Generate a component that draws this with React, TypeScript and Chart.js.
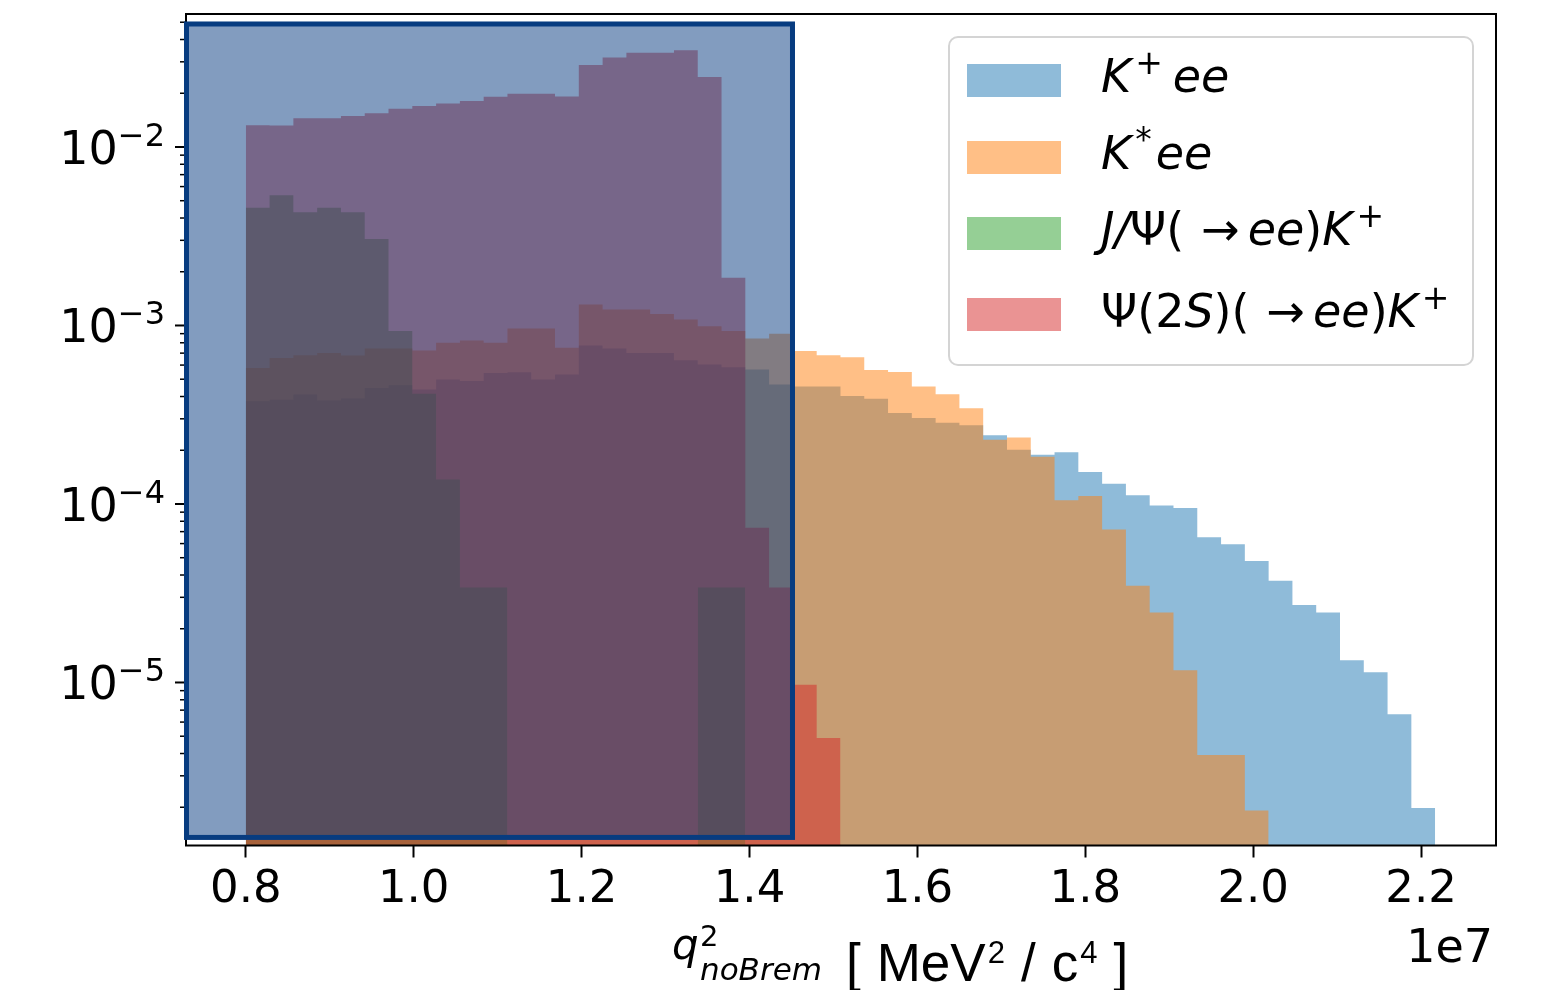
import React, { useEffect, useRef } from 'react';
import { Chart, registerables } from 'chart.js';

Chart.register(...registerables);

// ---------------- data ----------------
const BIN_LOW = 8.0e6;
const BIN_HIGH = 2.2167e7;
const N_BINS = 50;

const K_PLUS_EE = [
  3.76e-4, 3.84e-4, 4.10e-4, 3.80e-4, 3.90e-4, 4.47e-4, 4.62e-4, 4.38e-4, 4.98e-4, 4.88e-4,
  5.42e-4, 5.47e-4, 4.98e-4, 5.31e-4, 7.73e-4, 7.43e-4, 7.02e-4, 7.02e-4, 6.38e-4, 6.04e-4,
  5.83e-4, 5.66e-4, 4.67e-4, 4.55e-4, 4.55e-4, 4.03e-4, 3.88e-4, 3.23e-4, 3.03e-4, 2.85e-4,
  2.76e-4, 2.43e-4, 2.01e-4, 1.89e-4, 1.95e-4, 1.51e-4, 1.30e-4, 1.12e-4, 9.8e-5, 9.5e-5,
  6.51e-5, 5.95e-5, 4.79e-5, 3.71e-5, 2.72e-5, 2.47e-5, 1.33e-5, 1.14e-5, 6.64e-6, 1.98e-6,
];

const K_STAR_EE = [
  5.78e-4, 6.58e-4, 6.81e-4, 7.02e-4, 6.79e-4, 7.43e-4, 7.43e-4, 7.24e-4, 8.00e-4, 8.24e-4,
  8.00e-4, 9.62e-4, 9.62e-4, 7.50e-4, 1.31e-3, 1.23e-3, 1.23e-3, 1.16e-3, 1.08e-3, 9.90e-4,
  9.30e-4, 8.45e-4, 9.00e-4, 7.20e-4, 6.81e-4, 6.63e-4, 5.63e-4, 5.48e-4, 4.55e-4, 4.12e-4,
  3.44e-4, 2.29e-4, 2.36e-4, 1.84e-4, 1.05e-4, 1.11e-4, 7.2e-5, 3.48e-5, 2.47e-5, 1.17e-5,
  3.93e-6, 3.93e-6, 1.92e-6,
];

const JPSI_EE_K = [
  4.57e-3, 5.36e-3, 4.31e-3, 4.57e-3, 4.31e-3, 3.05e-3, 9.3e-4, 4.14e-4, 1.37e-4, 3.4e-5,
  3.4e-5, null, null, null, null, null, null, null, null, 3.4e-5,
  3.4e-5,
];

const PSI2S_EE_K = [
  1.324e-2, 1.32e-2, 1.449e-2, 1.45e-2, 1.493e-2, 1.545e-2, 1.64e-2, 1.698e-2, 1.75e-2, 1.81e-2,
  1.91e-2, 1.99e-2, 1.99e-2, 1.92e-2, 2.88e-2, 3.17e-2, 3.37e-2, 3.37e-2, 3.48e-2, 2.47e-2,
  1.85e-3, 7.36e-5, 3.4e-5, 9.7e-6, 4.88e-6,
];

const SERIES_LABELS = ['K+ee', 'K*ee', 'J/Ψ(→ee)K+', 'Ψ(2S)(→ee)K+'];
const SERIES_COLORS = [
  'rgba(31,119,180,0.5)',
  'rgba(255,127,14,0.5)',
  'rgba(44,160,44,0.5)',
  'rgba(214,39,40,0.5)',
];

const X_TICKS = [8.0e6, 1.0e7, 1.2e7, 1.4e7, 1.6e7, 1.8e7, 2.0e7, 2.2e7];
const X_TICK_LABELS = ['0.8', '1.0', '1.2', '1.4', '1.6', '1.8', '2.0', '2.2'];
const X_OFFSET_TEXT = '1e7';
const Y_DECADES = [-5, -4, -3, -2];
const X_RANGE = [7.2877e6, 2.2892e7];
const Y_RANGE = [1.221e-6, 0.05559];
const HIGHLIGHT_X = [7.2937e6, 1.4512e7];
const HIGHLIGHT_Y = [1.355e-6, 0.04887];

// ---------------- helpers ----------------
const edges = Array.from({ length: N_BINS + 1 }, (_, i) => BIN_LOW + ((BIN_HIGH - BIN_LOW) * i) / N_BINS);

function stepPoints(values: (number | null)[]) {
  const pts: { x: number; y: number | null }[] = [];
  values.forEach((v, i) => {
    if (v == null) {
      pts.push({ x: edges[i], y: null });
      return;
    }
    pts.push({ x: edges[i], y: v }, { x: edges[i + 1], y: v });
  });
  return pts;
}

type Run = { t: string; it?: boolean; sup?: boolean; sub?: boolean; dx?: number };

function dejavu(size: number, italic?: boolean) {
  return `${italic ? 'italic ' : ''}${size}px "DejaVu Sans"`;
}

function drawRuns(ctx: CanvasRenderingContext2D, x: number, y: number, runs: Run[], size: number, supSize: number, supRaise: number) {
  let cx = x;
  for (const r of runs) {
    cx += r.dx || 0;
    const s = r.sup || r.sub ? supSize : size;
    ctx.font = dejavu(s, r.it);
    const dy = r.sup ? -supRaise : r.sub ? size * 0.22 : 0;
    ctx.fillText(r.t, cx, y + dy);
    cx += ctx.measureText(r.t).width;
  }
  return cx;
}

const LEGEND_RUNS: Run[][] = [
  [{ t: 'K', it: true }, { t: '+', sup: true, dx: 4 }, { t: 'ee', it: true, dx: 10 }],
  [{ t: 'K', it: true }, { t: '*', sup: true, dx: 4 }, { t: 'ee', it: true, dx: 4 }],
  [
    { t: 'J', it: true }, { t: '/', it: true }, { t: 'Ψ' }, { t: '(' }, { t: '→', dx: 17 },
    { t: 'ee', it: true, dx: 8 }, { t: ')' }, { t: 'K', it: true }, { t: '+', sup: true, dx: 4 },
  ],
  [
    { t: 'Ψ' }, { t: '(' }, { t: '2' }, { t: 'S', it: true }, { t: ')' }, { t: '(' }, { t: '→', dx: 17 },
    { t: 'ee', it: true, dx: 8 }, { t: ')' }, { t: 'K', it: true }, { t: '+', sup: true, dx: 4 },
  ],
];

// unit part of the x label: [ MeV^2 / c^4 ]
const UNIT_RUNS: { t: string; sup?: boolean; space?: boolean }[] = [
  { t: '[' }, { t: ' ', space: true }, { t: 'MeV' }, { t: '2', sup: true }, { t: ' ', space: true },
  { t: '/' }, { t: ' ', space: true }, { t: 'c' }, { t: '4', sup: true }, { t: ' ', space: true }, { t: ']' },
];

const overlayPlugin = {
  id: 'overlayPlugin',
  afterDatasetsDraw(chart: any) {
    const { ctx, chartArea: ca, scales } = chart;
    const xs = scales.x;
    const ys = scales.y;
    ctx.save();
    // spines
    ctx.strokeStyle = '#000';
    ctx.lineWidth = 2;
    ctx.strokeRect(ca.left, ca.top, ca.right - ca.left, ca.bottom - ca.top);
    // y ticks (major + minor)
    for (let d = -7; d <= 0; d++) {
      for (let k = 1; k <= 9; k++) {
        const v = k * Math.pow(10, d);
        if (v < ys.min || v > ys.max) continue;
        const y = ys.getPixelForValue(v);
        ctx.lineWidth = k === 1 ? 2 : 1.5;
        ctx.beginPath();
        ctx.moveTo(ca.left - (k === 1 ? 11 : 6), y);
        ctx.lineTo(ca.left, y);
        ctx.stroke();
      }
    }
    // highlight box
    const x0 = xs.getPixelForValue(HIGHLIGHT_X[0]);
    const x1 = xs.getPixelForValue(HIGHLIGHT_X[1]);
    const y0 = ys.getPixelForValue(HIGHLIGHT_Y[1]);
    const y1 = ys.getPixelForValue(HIGHLIGHT_Y[0]);
    ctx.fillStyle = 'rgba(5,57,127,0.5)';
    ctx.fillRect(x0, y0, x1 - x0, y1 - y0);
    ctx.strokeStyle = '#073c80';
    ctx.lineWidth = 5;
    ctx.strokeRect(x0, y0, x1 - x0, y1 - y0);
    ctx.restore();
  },
  afterDraw(chart: any) {
    const { ctx, chartArea: ca, scales } = chart;
    const ys = scales.y;
    ctx.save();
    ctx.fillStyle = '#000';
    ctx.textBaseline = 'alphabetic';
    ctx.textAlign = 'left';

    // y tick labels 10^d
    for (const d of Y_DECADES) {
      const y = ys.getPixelForValue(Math.pow(10, d));
      ctx.font = dejavu(46);
      const w1 = ctx.measureText('10').width;
      const sup = '\u2212' + String(-d);
      ctx.font = dejavu(32);
      const w2 = ctx.measureText(sup).width;
      const x = ca.left - 21 - (w1 + w2);
      ctx.font = dejavu(46);
      ctx.fillText('10', x, y + 17);
      ctx.font = dejavu(32);
      ctx.fillText(sup, x + w1, y + 17 - 18);
    }

    // offset text
    ctx.font = dejavu(46);
    ctx.textAlign = 'right';
    ctx.fillText(X_OFFSET_TEXT, ca.right - 3, 962);
    ctx.textAlign = 'left';

    // x label: q^2_{noBrem}
    ctx.font = dejavu(42, true);
    ctx.fillText('q', 672, 959);
    ctx.font = dejavu(29);
    ctx.fillText('2', 700, 946);
    ctx.font = dejavu(31, true);
    ctx.fillText('noBrem', 700, 980);
    // [ MeV^2 / c^4 ]
    let ux = 846;
    for (const r of UNIT_RUNS) {
      if (r.space) {
        ux += 16;
        continue;
      }
      ctx.font = `${r.sup ? 31 : 53}px "Liberation Sans"`;
      if (r.sup) ux += 2;
      ctx.fillText(r.t, ux, r.sup ? 963 : 981);
      ux += ctx.measureText(r.t).width;
    }

    // legend
    const lx = 949, ly = 37, lw = 524, lh = 328;
    ctx.beginPath();
    ctx.roundRect(lx, ly, lw, lh, 9);
    ctx.fillStyle = 'rgba(255,255,255,0.8)';
    ctx.fill();
    ctx.strokeStyle = '#d4d4d4';
    ctx.lineWidth = 2;
    ctx.stroke();
    const patchTops = [64, 141, 217, 298];
    const baselines = [92, 169, 245, 327];
    LEGEND_RUNS.forEach((runs, i) => {
      ctx.fillStyle = SERIES_COLORS[i];
      ctx.fillRect(967, patchTops[i], 94, 33);
      ctx.fillStyle = '#000';
      drawRuns(ctx, 1101, baselines[i], runs, 46, 33, 18);
    });
    ctx.restore();
  },
};

export default function App() {
  const ref = useRef<HTMLCanvasElement | null>(null);

  useEffect(() => {
    const canvas = ref.current;
    if (!canvas) return;
    const seriesValues = [K_PLUS_EE, K_STAR_EE, JPSI_EE_K, PSI2S_EE_K];
    const chart = new Chart(canvas, {
      type: 'line',
      data: {
        datasets: seriesValues.map((vals, i) => ({
          label: SERIES_LABELS[i],
          data: stepPoints(vals),
          backgroundColor: SERIES_COLORS[i],
          borderColor: 'rgba(0,0,0,0)',
          borderWidth: 0,
          pointRadius: 0,
          pointHoverRadius: 0,
          tension: 0,
          fill: 'start',
          spanGaps: false,
          order: 3 - i,
        })),
      },
      options: {
        responsive: false,
        animation: false,
        devicePixelRatio: 1,
        layout: { padding: { left: 0, right: 47, top: 14, bottom: 0 } },
        plugins: {
          legend: { display: false },
          tooltip: { enabled: false },
          title: { display: false },
        },
        scales: {
          x: {
            type: 'linear',
            min: X_RANGE[0],
            max: X_RANGE[1],
            afterBuildTicks: (scale: any) => {
              scale.ticks = X_TICKS.map((v) => ({ value: v }));
            },
            afterFit: (scale: any) => {
              scale.height = 144.5;
            },
            ticks: {
              autoSkip: false,
              maxRotation: 0,
              padding: 6,
              color: '#000',
              font: { family: 'DejaVu Sans', size: 45 },
              callback: (_v: any, idx: number) => X_TICK_LABELS[idx],
            },
            grid: {
              display: true,
              drawOnChartArea: false,
              drawTicks: true,
              tickLength: 12,
              tickWidth: 2,
              tickColor: '#000',
              color: '#000',
            },
            border: { display: false },
          },
          y: {
            type: 'logarithmic',
            min: Y_RANGE[0],
            max: Y_RANGE[1],
            afterFit: (scale: any) => {
              scale.width = 186;
            },
            ticks: { display: false },
            grid: { display: false },
            border: { display: false },
          },
        },
      },
      plugins: [overlayPlugin],
    });
    return () => chart.destroy();
  }, []);

  return (
    <div style={{ position: 'fixed', left: 0, top: 0, width: 1543, height: 990, background: '#fff' }}>
      <canvas ref={ref} width={1543} height={990} style={{ width: 1543, height: 990, display: 'block' }} />
    </div>
  );
}
